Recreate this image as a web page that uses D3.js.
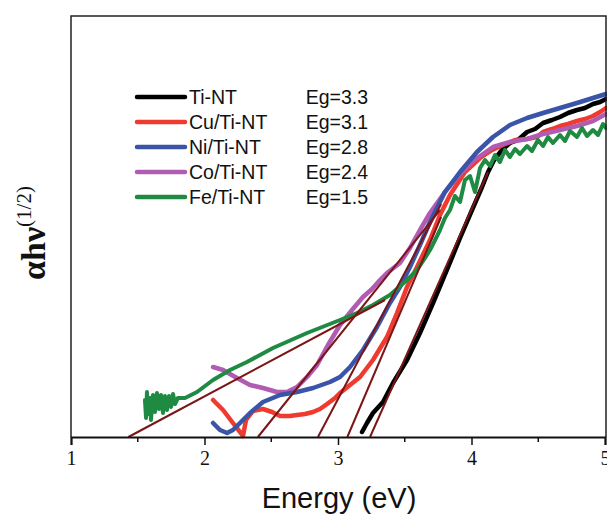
<!DOCTYPE html>
<html>
<head>
<meta charset="utf-8">
<script src="https://cdn.jsdelivr.net/npm/d3@7"></script>
<style>
  body { margin: 0; background: #fff; }
  svg { display: block; }
</style>
</head>
<body>
<svg id="mysvg"></svg>
<script>
// energy (eV) and alpha*h*nu^(1/2) (arbitrary units)
const tiE = [3.180, 3.217, 3.262, 3.337, 3.412, 3.517, 3.614, 3.712, 3.816, 3.914, 4.004, 4.079, 4.124, 4.169, 4.228, 4.288, 4.348, 4.416, 4.476, 4.536, 4.603, 4.663, 4.723, 4.790, 4.850, 4.910, 4.963, 5.007];
const tiV = [5, 14, 24, 35, 54, 77, 104, 134, 167, 199, 227, 250, 265, 277, 287, 294, 297, 305, 308, 314, 317, 320, 324, 327, 329, 333, 335, 338];

const cuE = [2.064, 2.139, 2.213, 2.266, 2.288, 2.311, 2.363, 2.438, 2.506, 2.566, 2.640, 2.693, 2.753, 2.813, 2.865, 2.918, 2.978, 3.015, 3.090, 3.165, 3.262, 3.367, 3.442, 3.517, 3.592, 3.689, 3.764, 3.839, 3.951, 4.064, 4.154, 4.236, 4.326, 4.416, 4.491, 4.536, 4.603, 4.663, 4.723, 4.790, 4.850, 4.910, 4.963, 5.007];
const cuV = [37, 27, 14, 5, 1, 17, 26, 28, 25, 21, 21, 22, 23, 25, 28, 33, 39, 44, 52, 60, 77, 100, 124, 150, 170, 197, 222, 242, 265, 279, 287, 292, 297, 298, 300, 305, 308, 311, 313, 316, 318, 321, 325, 329];

const niE = [2.064, 2.116, 2.169, 2.213, 2.266, 2.341, 2.438, 2.566, 2.693, 2.813, 2.940, 3.015, 3.090, 3.187, 3.292, 3.389, 3.464, 3.539, 3.614, 3.689, 3.801, 3.914, 4.041, 4.161, 4.288, 4.416, 4.536, 4.663, 4.790, 4.910, 5.007];
const niV = [14, 7, 4, 7, 14, 24, 35, 42, 45, 49, 55, 60, 70, 87, 110, 134, 150, 170, 192, 215, 245, 265, 285, 300, 312, 319, 324, 329, 334, 339, 343];

const coE = [2.064, 2.139, 2.243, 2.341, 2.438, 2.543, 2.618, 2.693, 2.768, 2.843, 2.925, 3.015, 3.105, 3.187, 3.255, 3.315, 3.367, 3.464, 3.539, 3.614, 3.689, 3.801, 3.914, 4.011, 4.161, 4.288, 4.416, 4.536, 4.663, 4.790, 4.910, 5.007];
const coV = [70, 67, 59, 52, 49, 45, 45, 50, 60, 72, 92, 112, 127, 140, 148, 157, 164, 174, 189, 207, 224, 245, 263, 276, 290, 295, 298, 303, 307, 311, 316, 323];

const feE = [1.554, 1.562, 1.569, 1.577, 1.592, 1.599, 1.614, 1.629, 1.644, 1.659, 1.674, 1.689, 1.704, 1.719, 1.734, 1.749, 1.764, 1.779, 1.801, 1.854, 1.944, 2.064, 2.191, 2.318, 2.513, 2.768, 3.015, 3.142, 3.262, 3.389, 3.517, 3.592, 3.652, 3.689, 3.727, 3.764, 3.801, 3.839, 3.876, 3.914, 3.951, 3.989, 4.026, 4.064, 4.101, 4.139, 4.176, 4.213, 4.251, 4.288, 4.326, 4.363, 4.416, 4.453, 4.498, 4.536, 4.573, 4.610, 4.663, 4.700, 4.738, 4.790, 4.828, 4.865, 4.910, 4.948, 4.985, 5.007];
const feV = [37, 19, 45, 23, 39, 17, 42, 25, 44, 28, 42, 24, 41, 27, 41, 30, 43, 33, 39, 39, 45, 57, 67, 75, 89, 104, 117, 124, 132, 142, 157, 167, 179, 187, 197, 207, 219, 227, 241, 235, 257, 261, 245, 269, 277, 271, 282, 275, 287, 280, 288, 283, 291, 286, 297, 291, 300, 294, 302, 296, 306, 300, 309, 301, 307, 302, 313, 309];

// linear fits: E at v=0, then the end point
const fitStart = [3.24, 3.07, 2.85, 2.40, 1.43];
const fitEndE = [4.124, 3.772, 3.772, 3.764, 3.352];
const fitEndV = [265, 220, 233, 227, 137];

const names = ["Ti-NT", "Cu/Ti-NT", "Ni/Ti-NT", "Co/Ti-NT", "Fe/Ti-NT"];
const gaps = ["Eg=3.3", "Eg=3.1", "Eg=2.8", "Eg=2.4", "Eg=1.5"];
const colors = ["#000000", "#ef3a30", "#3a55a8", "#b05cb2", "#1f8a42"];
const xticks = [1, 2, 3, 4, 5];
const xminor = [1.5, 2.5, 3.5, 4.5];

const w = 607, h = 517;
const padL = 71, padR = 605, padT = 16, padB = 437;

const series = [[tiE, tiV], [cuE, cuV], [niE, niV], [coE, coV], [feE, feV]];

const xScale = d3.scaleLinear().domain([1, 5]).range([padL, padR]);
const yScale = d3.scaleLinear().domain([0, 421]).range([padB, padT]);

const svg = d3.select("#mysvg")
    .attr("width", w)
    .attr("height", h);

const line = d3.line()
    .x(d => xScale(d[0]))
    .y(d => yScale(d[1]));

// curves, drawn black, red, purple, blue, green
const order = [0, 1, 3, 2, 4];
order.forEach(i => {
    const pts = series[i][0].map((e, j) => [e, series[i][1][j]]);
    svg.append("path")
        .datum(pts)
        .attr("fill", "none")
        .attr("stroke", colors[i])
        .attr("stroke-width", i === 4 ? 4 : 4.5)
        .attr("stroke-linejoin", "round")
        .attr("stroke-linecap", "round")
        .attr("d", line);
});

// tangent lines
svg.selectAll(".fit")
    .data(fitStart)
    .enter().append("line")
    .attr("class", "fit")
    .attr("x1", d => xScale(d))
    .attr("y1", yScale(0))
    .attr("x2", (d, i) => xScale(fitEndE[i]))
    .attr("y2", (d, i) => yScale(fitEndV[i]))
    .attr("stroke", "#7a1518")
    .attr("stroke-width", 2);

// frame
svg.append("path")
    .attr("d", `M${padL},${padB}V${padT}H${padR + 1}V${padB}`)
    .attr("fill", "none")
    .attr("stroke", "#222")
    .attr("stroke-width", 1.5);

// x axis
const xAxis = svg.append("g")
    .attr("class", "x axis")
    .attr("transform", "translate(0," + padB + ")")
    .call(d3.axisBottom(xScale).tickValues(xticks).tickFormat(d3.format("d")).tickSize(8).tickPadding(6));
xAxis.select(".domain").attr("stroke", "#111").attr("stroke-width", 2);
xAxis.selectAll(".tick line").attr("stroke", "#111").attr("stroke-width", 1.5);
xAxis.selectAll("text")
    .attr("font-family", "'Liberation Serif', 'Times New Roman', serif")
    .attr("font-size", 20)
    .attr("fill", "#111");

svg.append("g")
    .selectAll("line")
    .data(xminor)
    .enter().append("line")
    .attr("x1", d => xScale(d))
    .attr("x2", d => xScale(d))
    .attr("y1", padB)
    .attr("y2", padB + 5)
    .attr("stroke", "#111")
    .attr("stroke-width", 1.5);

svg.append("text")
    .attr("x", 339)
    .attr("y", 508)
    .attr("text-anchor", "middle")
    .attr("font-family", "'Liberation Sans', Arial, sans-serif")
    .attr("font-size", 29)
    .attr("fill", "#111")
    .text("Energy (eV)");

// y label
const yl = svg.append("text")
    .attr("transform", "translate(45,233) rotate(-90)")
    .attr("text-anchor", "middle")
    .attr("font-family", "'Liberation Serif', 'Times New Roman', serif")
    .attr("fill", "#111");
yl.append("tspan").attr("font-size", 34).attr("font-weight", "bold").text("αhν");
yl.append("tspan").attr("font-size", 21).attr("dy", -14).text("(1/2)");

// legend
const legY = d3.scaleLinear().domain([0, 4]).range([97, 197]);
const leg = svg.append("g").attr("class", "legend");
names.forEach((n, i) => {
    leg.append("line")
        .attr("x1", 137).attr("x2", 185)
        .attr("y1", legY(i)).attr("y2", legY(i))
        .attr("stroke", colors[i])
        .attr("stroke-width", 4.5)
        .attr("stroke-linecap", "round");
    leg.append("text")
        .attr("x", 189).attr("y", legY(i) + 7)
        .attr("font-family", "'Liberation Sans', Arial, sans-serif")
        .attr("font-size", 19.5)
        .attr("fill", "#111")
        .text(n);
    leg.append("text")
        .attr("x", 368).attr("y", legY(i) + 7)
        .attr("text-anchor", "end")
        .attr("font-family", "'Liberation Sans', Arial, sans-serif")
        .attr("font-size", 19.5)
        .attr("fill", "#111")
        .text(gaps[i]);
});
</script>
</body>
</html>
